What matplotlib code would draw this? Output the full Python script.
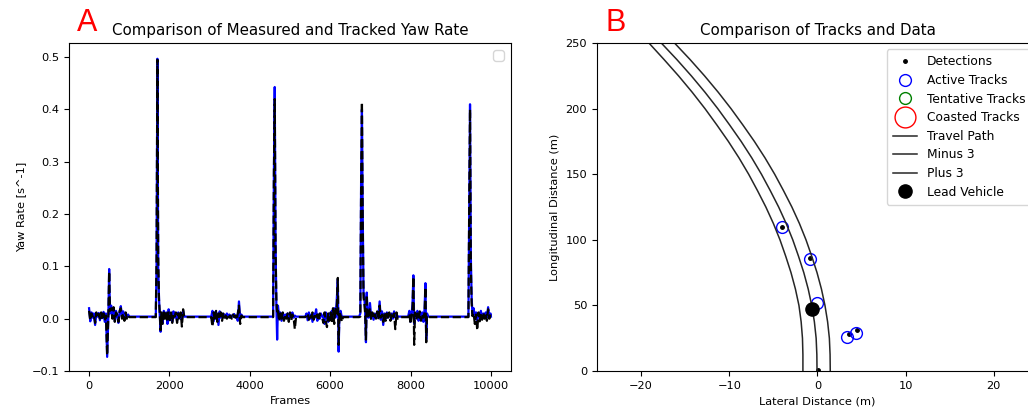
"""Yaw rate comparison and track plot, two panels."""
import matplotlib
matplotlib.use("Agg")
import matplotlib.pyplot as plt

# ---- panel A: yaw rate over frames ----
frames = [
    0, 30, 60, 90, 120, 150, 180, 210, 240, 270, 300, 330, 360, 390, 420, 450, 480, 500,
    520, 550, 580, 610, 640, 670, 700, 730, 760, 790, 820, 850, 880, 910, 940, 970, 1000, 1050,
    1660, 1680, 1700, 1720, 1740, 1760, 1780, 1800, 1830, 1860, 1890, 1920, 1950, 1980,
    2010, 2040, 2070, 2100, 2130, 2160, 2190, 2220, 2250, 2280, 2310, 2340, 2370,
    3040, 3070, 3100, 3130, 3160, 3190, 3220, 3250, 3280, 3310, 3340, 3370, 3400, 3430,
    3460, 3490, 3520, 3550, 3580, 3610, 3640, 3670, 3700, 3730, 3760, 3790, 3820,
    4580, 4600, 4620, 4640, 4660, 4680, 4700, 4730, 4760, 4790, 4820, 4850, 4880, 4910,
    4940, 4970, 5000, 5030, 5060, 5090, 5120, 5150,
    5380, 5410, 5440, 5470, 5500, 5530, 5560, 5590, 5620, 5650, 5680, 5710, 5740, 5770,
    5800, 5830, 5860, 5890, 5920, 5950, 5980, 6010, 6040, 6070, 6100, 6130, 6160, 6190,
    6210, 6230, 6260, 6290, 6320,
    6720, 6750, 6770, 6790, 6810, 6830, 6850, 6870, 6890, 6910, 6930, 6960, 6990, 7020,
    7050, 7080, 7110, 7140, 7170, 7200, 7230, 7260, 7290, 7320, 7350, 7380, 7410, 7440,
    7470, 7500, 7530, 7560, 7590, 7620, 7650, 7680, 7720,
    7940, 7970, 8000, 8030, 8050, 8070, 8090, 8110, 8140, 8170, 8200, 8230, 8260, 8290,
    8320, 8350, 8370, 8390, 8410, 8440,
    9440, 9460, 9480, 9500, 9520, 9540, 9570, 9600, 9630, 9660, 9690, 9720, 9750, 9780,
    9810, 9840, 9870, 9900, 9930, 9960, 9990, 10000,
]

yaw_measured = [
    0.020, -0.005, 0.012, 0.002, 0.010, -0.012, 0.008, 0.004, 0.011, -0.003, 0.009, 0.001,
    0.013, -0.006, 0.010, -0.073, 0.004, 0.095, 0.010, 0.025, 0.002, 0.018, -0.004, 0.015,
    0.005, -0.008, 0.012, 0.024, 0.003, 0.014, -0.002, 0.010, 0.002, 0.008, 0.004, 0.004,
    0.004, 0.100, 0.497, 0.100, 0.040, 0.005, -0.025, 0.010, -0.008, 0.015, 0.002, 0.012,
    -0.010, 0.018, 0.000, 0.010, -0.006, 0.014, 0.002, 0.010, -0.004, 0.012, 0.001, 0.008,
    -0.002, 0.015, 0.004,
    0.004, 0.015, -0.005, 0.012, 0.000, 0.010, -0.012, 0.014, 0.002, 0.010, 0.005, 0.008,
    0.002, 0.010, 0.004, 0.008, 0.002, 0.006, 0.004, 0.009, 0.002, 0.006, -0.004, 0.033,
    0.000, 0.008, 0.004,
    0.004, 0.280, 0.443, 0.150, 0.030, -0.040, 0.025, 0.005, 0.012, -0.004, 0.010, 0.002,
    0.008, 0.004, 0.010, 0.000, 0.008, 0.004, 0.012, 0.002, 0.006, 0.004,
    0.004, 0.010, -0.003, 0.012, 0.000, 0.008, -0.006, 0.010, 0.002, 0.018, -0.004, 0.008,
    0.000, 0.010, 0.004, 0.006, -0.010, 0.012, 0.004, -0.006, 0.010, 0.000, 0.015, -0.004,
    0.020, 0.002, 0.030, 0.075, -0.063, 0.010, 0.015, 0.002, 0.004,
    0.004, 0.010, 0.270, 0.400, 0.200, 0.050, 0.040, 0.015, -0.045, 0.050, 0.010, 0.002,
    0.030, 0.004, 0.010, -0.002, 0.010, 0.004, 0.012, 0.002, 0.033, -0.002, 0.014, -0.012,
    0.010, 0.000, 0.012, 0.002, 0.008, 0.004, 0.010, 0.000, 0.014, 0.002, 0.008, 0.004, 0.004,
    0.004, 0.015, -0.006, 0.012, 0.030, 0.083, -0.010, 0.010, 0.002, 0.015, -0.004, 0.010,
    0.002, 0.012, -0.006, 0.020, 0.068, -0.040, 0.010, 0.004,
    0.004, 0.200, 0.410, 0.120, 0.040, 0.010, 0.020, 0.002, 0.012, -0.004, 0.010, 0.004,
    0.015, 0.000, 0.010, 0.004, 0.012, 0.002, 0.022, 0.005, 0.010, 0.004,
]

yaw_tracked = [
    0.015, -0.003, 0.010, 0.005, 0.008, -0.008, 0.012, 0.002, 0.009, 0.000, 0.012, -0.002,
    0.010, -0.004, 0.006, -0.070, 0.008, 0.090, 0.015, 0.020, 0.000, 0.022, -0.006, 0.012,
    0.008, -0.006, 0.015, 0.020, 0.000, 0.010, -0.004, 0.012, 0.000, 0.006, 0.003, 0.003,
    0.003, 0.120, 0.495, 0.120, 0.035, 0.010, -0.022, 0.012, -0.010, 0.012, 0.000, 0.015,
    -0.006, 0.014, -0.003, 0.012, -0.008, 0.010, 0.004, 0.012, -0.008, 0.010, -0.003, 0.012,
    -0.015, 0.018, 0.003,
    0.003, -0.015, 0.012, -0.004, 0.015, -0.006, 0.010, 0.000, 0.012, -0.004, 0.010, 0.002,
    0.006, 0.000, 0.008, 0.002, 0.006, 0.000, 0.008, 0.003, 0.006, -0.002, 0.010, 0.025,
    -0.010, 0.006, 0.003,
    0.003, 0.280, 0.420, 0.130, 0.038, 0.010, 0.015, -0.005, 0.010, 0.000, 0.012, -0.004,
    0.008, 0.000, 0.010, -0.006, 0.012, -0.004, 0.008, 0.002, -0.020, 0.003,
    0.003, 0.006, 0.010, -0.002, 0.008, 0.002, 0.012, -0.002, 0.010, 0.004, 0.008, -0.004,
    0.010, 0.004, 0.002, -0.008, 0.012, -0.004, -0.016, 0.010, -0.004, 0.012, -0.008, 0.020,
    -0.010, 0.022, 0.010, 0.078, -0.050, 0.012, 0.006, -0.006, 0.003,
    0.003, 0.004, 0.250, 0.414, 0.180, 0.040, 0.030, 0.010, -0.040, 0.045, 0.000, 0.008,
    0.020, -0.002, 0.012, 0.000, 0.008, 0.000, 0.014, -0.002, 0.025, 0.002, 0.008, -0.006,
    0.012, -0.004, 0.010, -0.002, 0.012, -0.004, 0.008, 0.002, 0.010, -0.020, 0.012, 0.000, 0.003,
    0.003, 0.010, -0.010, 0.008, 0.020, 0.080, -0.050, 0.012, -0.002, 0.010, 0.000, 0.014,
    -0.004, 0.008, 0.002, 0.012, 0.060, -0.045, 0.006, 0.003,
    0.003, 0.220, 0.400, 0.100, 0.030, 0.005, 0.010, -0.010, 0.008, -0.022, 0.012, -0.005,
    0.010, -0.002, 0.012, 0.000, 0.010, -0.004, 0.018, 0.000, 0.008, 0.003,
]

# ---- panel B: travel path and detections ----
path_long = [0, 12.5, 25, 37.5, 50, 62.5, 75, 87.5, 100, 112.5, 125, 137.5, 150,
             162.5, 175, 187.5, 200, 212.5, 225, 237.5, 250]
path_center = [-0.05, -0.07, -0.15, -0.35, -0.65, -1.05, -1.55, -2.15, -2.8, -3.55,
               -4.4, -5.35, -6.35, -7.45, -8.65, -9.95, -11.3, -12.75, -14.3, -15.95, -17.7]
path_minus = [-1.65, -1.65, -1.7, -1.85, -2.1, -2.5, -3.0, -3.6, -4.25, -5.0,
              -5.85, -6.8, -7.8, -8.9, -10.1, -11.4, -12.75, -14.2, -15.75, -17.4, -19.1]
path_plus = [1.45, 1.43, 1.35, 1.15, 0.85, 0.45, -0.05, -0.65, -1.3, -2.05,
             -2.9, -3.85, -4.85, -5.95, -7.15, -8.45, -9.8, -11.25, -12.8, -14.45, -16.2]

det_lat = [-4.0, -0.8, 3.6, 4.5, 0.05]
det_long = [109.5, 86.0, 28.5, 31.5, 0.5]
active_lat = [-4.0, -0.8, -0.1, 3.4, 4.4]
active_long = [109.5, 85.5, 52.0, 26.0, 29.0]
lead_lat = [-0.6]
lead_long = [47.5]


def main() -> None:
    assert len(frames) == len(yaw_measured) == len(yaw_tracked)

    fig = plt.figure(figsize=(10.28, 4.13), dpi=100)
    fs = 8.2

    # panel A
    ax1 = fig.add_axes([0.0671, 0.1017, 0.430, 0.794])
    ax1.plot(frames, yaw_measured, color="b", lw=1.6)
    ax1.plot(frames, yaw_tracked, color="k", lw=1.6, ls="--")
    ax1.set_xlim(-500, 10500)
    ax1.set_ylim(-0.1, 0.527)
    ax1.set_xticks([0, 2000, 4000, 6000, 8000, 10000])
    ax1.set_yticks([-0.1, 0.0, 0.1, 0.2, 0.3, 0.4, 0.5])
    ax1.tick_params(labelsize=fs)
    ax1.set_xlabel("Frames", fontsize=fs)
    ax1.set_ylabel("Yaw Rate [s^-1]", fontsize=fs)
    ax1.set_title("Comparison of Measured and Tracked Yaw Rate", fontsize=10.8)
    ax1.legend(handles=[], loc="upper right")

    # panel B
    ax2 = fig.add_axes([0.5807, 0.1017, 0.429, 0.794])
    ax2.plot(det_lat, det_long, ".", color="k", ms=5, label="Detections")
    ax2.plot(active_lat, active_long, "o", mfc="none", mec="b", ms=8.5,
             label="Active Tracks")
    ax2.plot([], [], "o", mfc="none", mec="g", ms=8.5, label="Tentative Tracks")
    ax2.plot([], [], "o", mfc="none", mec="r", ms=15, label="Coasted Tracks")
    ax2.plot(path_center, path_long, color="0.15", lw=1.1, label="Travel Path")
    ax2.plot(path_minus, path_long, color="0.15", lw=1.1, label="Minus 3")
    ax2.plot(path_plus, path_long, color="0.15", lw=1.1, label="Plus 3")
    ax2.plot(lead_lat, lead_long, "o", color="k", ms=9.5, label="Lead Vehicle")
    ax2.set_xlim(-25, 25)
    ax2.set_ylim(0, 250)
    ax2.tick_params(labelsize=fs)
    ax2.set_xlabel("Lateral Distance (m)", fontsize=fs)
    ax2.set_ylabel("Longitudinal Distance (m)", fontsize=fs)
    ax2.set_title("Comparison of Tracks and Data", fontsize=10.8)
    ax2.legend(loc="upper right", fontsize=8.8, labelspacing=0.46,
               borderpad=0.5, handletextpad=0.8)

    fig.text(0.085, 0.945, "A", color="red", fontsize=22, ha="center", va="center",
             family="Liberation Sans")
    fig.text(0.599, 0.945, "B", color="red", fontsize=22, ha="center", va="center",
             family="Liberation Sans")

    fig.savefig("out.png", dpi=100)
    plt.close(fig)


if __name__ == "__main__":
    main()
